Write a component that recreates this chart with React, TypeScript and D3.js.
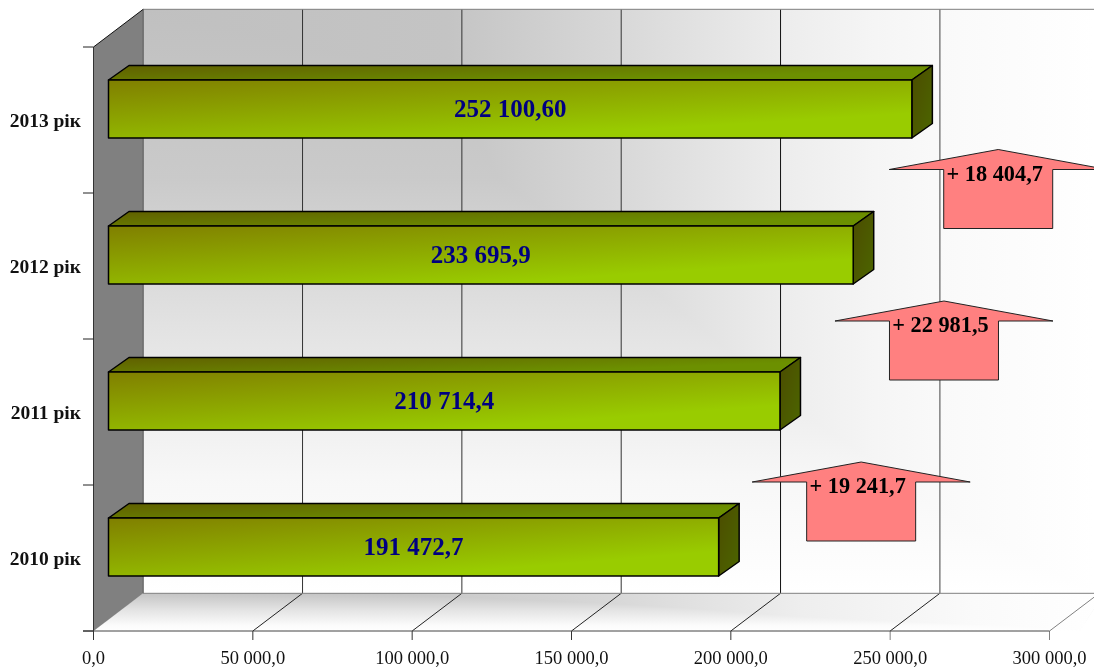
import React from "react";
import * as d3 from "d3";

const categories = ["2010 рік", "2011 рік", "2012 рік", "2013 рік"];
const values = [191472.7, 210714.4, 233695.9, 252100.6];
const valueLabels = ["191 472,7", "210 714,4", "233 695,9", "252 100,60"];
const tickValues = [0, 50000, 100000, 150000, 200000, 250000, 300000];
const tickLabels = ["0,0", "50 000,0", "100 000,0", "150 000,0", "200 000,0", "250 000,0", "300 000,0"];
const deltaLabels = ["+ 19 241,7", "+ 22 981,5", "+ 18 404,7"];
const deltaOffsets = [142.5, 164, 145];
const deltaRise = [56, 71, 76.5];

const W = 1094, H = 669;
const serif = "'Liberation Serif', serif";
const floorDX = 49.7, floorDY = -37.7;
const barDX = 20.5, barDY = -14.5, barInset = 15;

const x = d3.scaleLinear().domain([0, 300000]).range([93.5, 1049.5]);
const y = d3.scaleBand().domain(categories).range([631, 47]);
const poly = (pts: number[][]) => (d3.line()(pts as [number, number][]) || "") + "Z";

function stops(list: [number, string][]) {
  return list.map(([o, c]) => <stop key={o} offset={o} stopColor={c} />);
}

export default function App() {
  const bandH = y.bandwidth();
  const barH = 58;
  const wallX = x(0) + floorDX;
  const wallTop = 47 + floorDY;
  const floorPts = [[x(0), 631], [wallX, 631 + floorDY], [W + 10, 631 + floorDY], [x(300000) + 30, 631]];
  return (
    <svg width={W} height={H} viewBox={`0 0 ${W} ${H}`} style={{ position: "absolute", left: 0, top: 0, display: "block", background: "#fff" }}>
      <defs>
        <linearGradient id="wallH" x1="0" y1="0" x2="1" y2="0">
          {stops([[0, "#c0c0c0"], [0.32, "#c4c4c4"], [0.5, "#d8d8d8"], [0.667, "#ececec"], [0.77, "#f5f5f5"], [0.83, "#f9f9f9"], [1, "#ffffff"]])}
        </linearGradient>
        <linearGradient id="wallV" x1="0" y1="0" x2="0" y2="1">
          {stops([[0, "#c0c0c0"], [0.29, "#cacaca"], [0.55, "#e3e3e3"], [0.8, "#f7f7f7"], [1, "#ffffff"]])}
        </linearGradient>
        <linearGradient id="floorH" x1="0" y1="0" x2="1" y2="0">
          {stops([[0, "#c4c4c4"], [0.3, "#c6c6c6"], [0.52, "#d8d8d8"], [0.7, "#eeeeee"], [0.87, "#fafafa"], [1, "#ffffff"]])}
        </linearGradient>
        <linearGradient id="floorV" x1="0" y1="0" x2="0" y2="1">
          {stops([[0, "#c4c4c4"], [0.45, "#e4e4e4"], [0.85, "#fbfbfb"], [1, "#ffffff"]])}
        </linearGradient>
        <linearGradient id="barFront" x1="0" y1="0" x2="0.706" y2="0.824">
          {stops([[0, "#807f00"], [1, "#99cc00"]])}
        </linearGradient>
        <linearGradient id="barTop" x1="0" y1="0" x2="0.9" y2="0.5">
          {stops([[0, "#605f00"], [1, "#6c9000"]])}
        </linearGradient>
        <linearGradient id="barSide" x1="0" y1="0" x2="1" y2="1">
          {stops([[0, "#4c4c00"], [1, "#4c6600"]])}
        </linearGradient>
      </defs>

      {/* back wall */}
      <g style={{ isolation: "isolate" }}>
        <rect x={wallX} y={wallTop} width={W - wallX} height={631 - 47} fill="url(#wallH)" />
        <rect x={wallX} y={wallTop} width={W - wallX} height={631 - 47} fill="url(#wallV)" style={{ mixBlendMode: "lighten" }} />
        <path d={poly(floorPts)} fill="#fff" />
        <path d={poly(floorPts)} fill="url(#floorH)" />
        <path d={poly(floorPts)} fill="url(#floorV)" style={{ mixBlendMode: "lighten" }} />
      </g>
      {/* left wall */}
      <path d={poly([[x(0), 631], [x(0), 47], [wallX, wallTop], [wallX, 631 + floorDY]])} fill="#808080" />

      {/* grid */}
      {tickValues.map((t, i) => {
        const px = x(t);
        return (
          <g key={t}>
            {i > 0 && <line x1={px + floorDX} x2={px + floorDX} y1={wallTop} y2={631 + floorDY} stroke={t >= 250000 ? "#808080" : t === 200000 ? "#111" : "#333"} strokeWidth={t >= 250000 ? 1.5 : 1} />}
            {i > 0 && <line x1={px} x2={px + floorDX} y1={631} y2={631 + floorDY} stroke={t === 300000 ? "#808080" : "#222"} strokeWidth={1} />}
            <line x1={px} x2={px} y1={631} y2={640} stroke={t >= 250000 ? "#808080" : "#333"} strokeWidth={1} />
            <text x={px} y={664} textAnchor="middle" fontFamily={serif} fontSize={18.5} fill="#111">{tickLabels[i]}</text>
          </g>
        );
      })}
      <line x1={wallX} x2={W} y1={wallTop} y2={wallTop} stroke="#808080" strokeWidth={1} />
      <line x1={wallX} x2={W} y1={631 + floorDY} y2={631 + floorDY} stroke="#808080" strokeWidth={1} />
      <line x1={wallX} x2={wallX} y1={wallTop} y2={631 + floorDY} stroke="#595959" strokeWidth={1} />
      <line x1={x(0)} x2={wallX} y1={47} y2={wallTop} stroke="#111" strokeWidth={1} />
      <line x1={x(0)} x2={x(0)} y1={47} y2={631} stroke="#333" strokeWidth={1} />
      <line x1={83} x2={x(300000)} y1={631} y2={631} stroke="#444" strokeWidth={1} />
      {[0, 1, 2, 3, 4].map((i) => (
        <line key={i} x1={83} x2={x(0)} y1={47 + i * bandH} y2={47 + i * bandH} stroke="#222" strokeWidth={1} />
      ))}

      {/* bars */}
      {categories.map((c, i) => {
        const x0 = x(0) + barInset;
        const x1 = x(values[i]) + barInset;
        const top = y(c)! + (bandH - barH) / 2 - 11;
        const bot = top + barH;
        return (
          <g key={c} stroke="#000" strokeWidth={1.5} strokeLinejoin="round">
            <path d={poly([[x0, top], [x0 + barDX, top + barDY], [x1 + barDX, top + barDY], [x1, top]])} fill="url(#barTop)" />
            <path d={poly([[x1, top], [x1 + barDX, top + barDY], [x1 + barDX, bot + barDY], [x1, bot]])} fill="url(#barSide)" />
            <rect x={x0} y={top} width={x1 - x0} height={barH} fill="url(#barFront)" />
            <text x={(x0 + x1) / 2} y={top + 37} textAnchor="middle" fontFamily={serif} fontWeight="bold" fontSize={25} fill="#000080" stroke="none">{valueLabels[i]}</text>
            <text x={81} y={top + 47} textAnchor="end" fontFamily={serif} fontWeight="bold" fontSize={19.5} fill="#111" stroke="none">{c}</text>
          </g>
        );
      })}

      {/* increment arrows */}
      {deltaLabels.map((d, i) => {
        const cx = x(values[i]) + barInset + deltaOffsets[i];
        const barTop = y(categories[i])! + (bandH - barH) / 2 - 11;
        const tip = barTop - deltaRise[i];
        return (
          <g key={d}>
            <path d={poly([[cx, tip], [cx + 109, tip + 20], [cx + 54.5, tip + 20], [cx + 54.5, tip + 79], [cx - 54.5, tip + 79], [cx - 54.5, tip + 20], [cx - 109, tip + 20]])} fill="#ff8080" stroke="#222" strokeWidth={1} />
            <text x={cx - 3.5} y={tip + 31} textAnchor="middle" fontFamily={serif} fontWeight="bold" fontSize={22.3} fill="#000">{d}</text>
          </g>
        );
      })}
    </svg>
  );
}
